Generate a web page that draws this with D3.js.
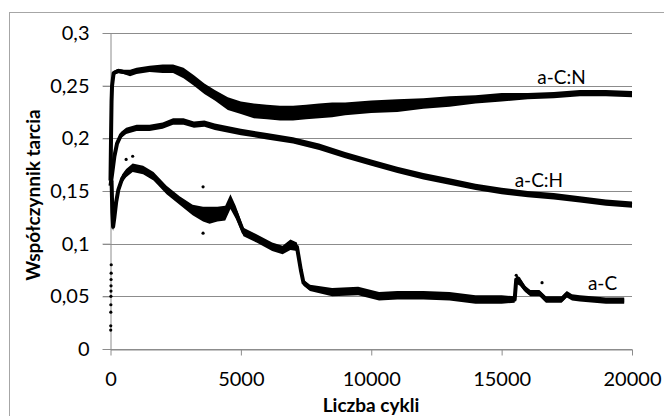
<!DOCTYPE html>
<html>
<head>
<meta charset="utf-8">
<script src="https://cdn.jsdelivr.net/npm/d3@7"></script>
<style>
  html, body { margin: 0; padding: 0; background: #fff; }
  svg { display: block; }
  text { font-family: Lato, "Open Sans", sans-serif; fill: #000; }
</style>
</head>
<body>
<svg id="chart" width="664" height="416"></svg>
<script>
// a-C:N
const cnCycles = [0, 20, 40, 60, 120, 300, 500, 750, 1000, 1500, 2000, 2400, 2800, 3200, 3600, 4000, 4500, 5000, 5500, 6000, 6500, 7000, 7500, 8000, 8500, 9000, 10000, 11000, 12000, 13000, 14000, 15000, 16000, 17000, 18000, 19000, 20000];
const cnValues = [0.16, 0.20, 0.235, 0.25, 0.262, 0.264, 0.263, 0.262, 0.264, 0.266, 0.266, 0.266, 0.262, 0.255, 0.247, 0.241, 0.233, 0.229, 0.226, 0.225, 0.224, 0.224, 0.225, 0.226, 0.227, 0.228, 0.230, 0.231, 0.233, 0.235, 0.237, 0.239, 0.240, 0.241, 0.243, 0.243, 0.242];
const cnSpread = [0.001, 0.001, 0.001, 0.002, 0.002, 0.002, 0.002, 0.003, 0.003, 0.003, 0.004, 0.004, 0.005, 0.005, 0.005, 0.005, 0.006, 0.006, 0.007, 0.007, 0.007, 0.007, 0.007, 0.007, 0.007, 0.006, 0.006, 0.006, 0.005, 0.005, 0.004, 0.004, 0.003, 0.003, 0.003, 0.003, 0.003];

// a-C:H
const chCycles = [0, 60, 150, 250, 400, 600, 1000, 1500, 2000, 2400, 2800, 3200, 3600, 4000, 5000, 6000, 7000, 8000, 9000, 10000, 11000, 12000, 13000, 14000, 15000, 16000, 17000, 18000, 19000, 20000];
const chValues = [0.155, 0.166, 0.183, 0.195, 0.203, 0.207, 0.210, 0.210, 0.212, 0.216, 0.216, 0.213, 0.214, 0.211, 0.206, 0.202, 0.198, 0.192, 0.184, 0.177, 0.170, 0.164, 0.159, 0.154, 0.150, 0.147, 0.145, 0.142, 0.139, 0.137];
const chSpread = [0.003, 0.003, 0.003, 0.003, 0.003, 0.003, 0.003, 0.003, 0.003, 0.003, 0.003, 0.003, 0.003, 0.003, 0.003, 0.003, 0.003, 0.003, 0.003, 0.003, 0.003, 0.003, 0.003, 0.003, 0.003, 0.003, 0.003, 0.003, 0.003, 0.003];

// a-C
const acCycles = [40, 70, 100, 150, 220, 300, 450, 600, 850, 1250, 1650, 2150, 2650, 3150, 3550, 3800, 4100, 4400, 4600, 4800, 5100, 5600, 6200, 6600, 6900, 7150, 7300, 7400, 7650, 8500, 9500, 10300, 11000, 12000, 13000, 14000, 15000, 15500, 15560, 15700, 15900, 16100, 16450, 16700, 17300, 17500, 17700, 18000, 19000, 19700];
const acValues = [0.160, 0.130, 0.116, 0.125, 0.140, 0.151, 0.162, 0.167, 0.172, 0.170, 0.164, 0.151, 0.141, 0.132, 0.128, 0.127, 0.128, 0.129, 0.140, 0.130, 0.111, 0.105, 0.097, 0.094, 0.099, 0.097, 0.075, 0.063, 0.058, 0.054, 0.055, 0.050, 0.051, 0.051, 0.050, 0.047, 0.047, 0.047, 0.066, 0.064, 0.057, 0.053, 0.053, 0.047, 0.047, 0.052, 0.049, 0.048, 0.046, 0.046];
const acSpread = [0.004, 0.015, 0.004, 0.004, 0.004, 0.004, 0.004, 0.004, 0.004, 0.004, 0.004, 0.004, 0.004, 0.005, 0.007, 0.008, 0.007, 0.007, 0.007, 0.006, 0.004, 0.004, 0.004, 0.004, 0.005, 0.004, 0.003, 0.003, 0.003, 0.004, 0.004, 0.004, 0.004, 0.004, 0.004, 0.004, 0.004, 0.003, 0.004, 0.004, 0.003, 0.003, 0.003, 0.003, 0.003, 0.003, 0.003, 0.003, 0.003, 0.003];
// stray points of a-C
const acStrayCycles = [8, 10, 12, 14, 16, 18, 20, 22, 25, 28, 600, 850, 3550, 3550, 15560, 16550];
const acStrayValues = [0.018, 0.022, 0.035, 0.042, 0.050, 0.055, 0.060, 0.066, 0.072, 0.080, 0.180, 0.183, 0.154, 0.110, 0.070, 0.063];

// labels
const seriesNames = ['a-C:N', 'a-C:H', 'a-C'];
const labelCycles = [17300, 16430, 18870];
const labelValues = [0.252, 0.1537, 0.056];

const xTicks = [0, 5000, 10000, 15000, 20000];
const yTicks = [0, 0.05, 0.1, 0.15, 0.2, 0.25, 0.3];

const svg = d3.select('#chart');
const x = d3.scaleLinear().domain([0, 20000]).range([110.5, 632]);
const y = d3.scaleLinear().domain([0, 0.3]).range([349, 33]);
const gray = '#8c8c8c';

// outer frame (cut off on right/bottom)
svg.append('rect')
  .attr('x', 9.5).attr('y', 12.5)
  .attr('width', 700).attr('height', 500)
  .attr('fill', 'none').attr('stroke', '#a6a6a6');

// gridlines
svg.append('g').selectAll('line')
  .data(yTicks)
  .enter().append('line')
  .attr('x1', 103).attr('x2', 632)
  .attr('y1', d => Math.round(y(d)) + 0.5)
  .attr('y2', d => Math.round(y(d)) + 0.5)
  .attr('stroke', gray).attr('stroke-width', 1);

// y axis
const yAxis = svg.append('g')
  .attr('transform', 'translate(110.5,0)')
  .call(d3.axisLeft(y).tickValues(yTicks).tickSizeInner(8).tickSizeOuter(0).tickPadding(13)
    .tickFormat(d => String(+d.toFixed(2)).replace('.', ',')));
yAxis.select('.domain').attr('stroke', gray);
yAxis.selectAll('.tick line').attr('stroke', gray);
yAxis.selectAll('text').style('font-size', '20px').attr('fill', '#222');

// x axis
const xAxis = svg.append('g')
  .attr('transform', 'translate(0,349.5)')
  .call(d3.axisBottom(x).tickValues(xTicks).tickSizeInner(6).tickSizeOuter(0).tickPadding(16)
    .tickFormat(d3.format('d')));
xAxis.select('.domain').attr('stroke', gray);
xAxis.selectAll('.tick line').attr('stroke', gray);
xAxis.selectAll('text').style('font-size', '20px').attr('fill', '#222');

// series
const series = [
  { c: cnCycles, v: cnValues, s: cnSpread, w: 4 },
  { c: chCycles, v: chValues, s: chSpread, w: 4 },
  { c: acCycles, v: acValues, s: acSpread, w: 4 }
];

const area = d3.area()
  .x(d => x(d[0]))
  .y0(d => y(d[1] - d[2]))
  .y1(d => y(d[1] + d[2]));
const line = d3.line()
  .x(d => x(d[0]))
  .y(d => y(d[1]));

series.forEach(sr => {
  const pts = sr.c.map((c, i) => [c, sr.v[i], sr.s[i]]);
  svg.append('path').attr('d', area(pts)).attr('fill', '#000');
  svg.append('path').attr('d', line(pts))
    .attr('fill', 'none').attr('stroke', '#000')
    .attr('stroke-width', sr.w).attr('stroke-linejoin', 'round');
});

svg.append('g').selectAll('circle')
  .data(acStrayCycles)
  .enter().append('circle')
  .attr('cx', d => x(d))
  .attr('cy', (d, i) => y(acStrayValues[i]))
  .attr('r', 1.6)
  .attr('fill', '#000');

// series labels
svg.append('g').selectAll('text')
  .data(seriesNames)
  .enter().append('text')
  .attr('x', (d, i) => x(labelCycles[i]))
  .attr('y', (d, i) => y(labelValues[i]))
  .attr('text-anchor', 'middle')
  .style('font-size', '19px')
  .text(d => d);

// axis titles
svg.append('text')
  .attr('x', 371).attr('y', 412)
  .attr('text-anchor', 'middle')
  .style('font-size', '19px').style('font-weight', 'bold')
  .text('Liczba cykli');

svg.append('text')
  .attr('transform', 'translate(39.5,195) rotate(-90)')
  .attr('text-anchor', 'middle')
  .style('font-size', '19px').style('font-weight', 'bold')
  .text('Współczynnik tarcia');
</script>
</body>
</html>
